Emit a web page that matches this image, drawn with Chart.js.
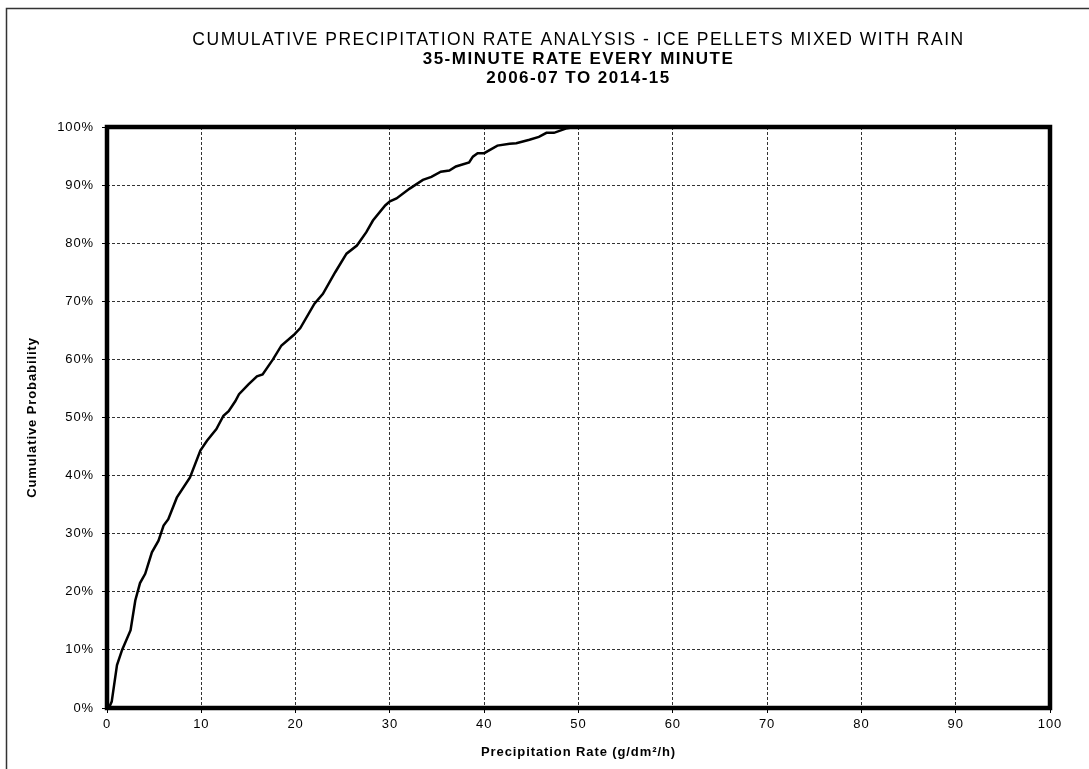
<!DOCTYPE html>
<html>
<head>
<meta charset="utf-8">
<script src="https://cdn.jsdelivr.net/npm/chart.js@4/dist/chart.umd.min.js"></script>
<style>
    html, body { margin: 0; padding: 0; background: #fff; }
    #wrap { width: 1089px; height: 769px; }
</style>
</head>
<body>
<div id="wrap"><canvas id="cdfChart"></canvas></div>
<script>
// 读图得到的数据
const rate = [0.2, 0.5, 1.06, 1.6, 2.5, 3.0, 3.5, 4.05, 4.76, 5.46, 6.0, 6.5, 7.4, 8.8, 9.9, 10.6, 11.6, 12.35, 12.9, 13.6,
    14.0, 15.0, 15.9, 16.5, 17.6, 18.5, 19.8, 20.5, 22.0, 22.9, 24.2, 25.4, 26.5, 27.5, 28.2, 29.5, 30.0, 30.7, 32.1,
    33.5, 34.4, 35.4, 36.3, 37.0, 38.4, 38.8, 39.3, 40.0, 41.4, 42.7, 43.4, 44.8, 45.8, 46.6, 47.4, 48.8, 49.6];
const prob = [0, 1.1, 7.4, 10, 13.4, 18.5, 21.5, 23.1, 26.8, 28.8, 31.4, 32.5, 36.2, 39.7, 44.3, 46, 48, 50.3, 51.1, 52.8,
    54, 55.7, 57.1, 57.4, 60, 62.4, 64.2, 65.4, 69.6, 71.3, 75, 78.2, 79.6, 81.9, 83.9, 86.5, 87.2, 87.7, 89.4,
    90.9, 91.4, 92.3, 92.5, 93.2, 93.9, 94.9, 95.5, 95.5, 96.8, 97.1, 97.2, 97.8, 98.3, 99, 99, 99.8, 100];
const xTicks = [0, 10, 20, 30, 40, 50, 60, 70, 80, 90, 100];
const titleText = 'CUMULATIVE PRECIPITATION RATE ANALYSIS - ICE PELLETS MIXED WITH RAIN';
const subtitleText = ['35-MINUTE RATE EVERY MINUTE', '2006-07 TO 2014-15'];

const FONT = '"Liberation Sans", Arial, sans-serif';

// 原图文字横向偏宽，用一点字间距近似
const framePlugin = {
    id: 'frame',
    afterLayout(chart) {
        chart.boxes.forEach(b => {
            if (b.axis || !b.options || b.options.text === undefined || b._wrapped) return;
            const orig = b.draw.bind(b);
            b.draw = (area) => {
                const c = chart.ctx;
                c.save();
                c.letterSpacing = '1.5px';
                orig(area);
                c.restore();
            };
            b._wrapped = true;
        });
    },
    beforeDraw(chart) {
        const ctx = chart.ctx;
        ctx.save();
        ctx.fillStyle = '#fff';
        ctx.fillRect(0, 0, chart.width, chart.height);
        ctx.strokeStyle = '#333';
        ctx.lineWidth = 1.5;
        ctx.beginPath();
        ctx.moveTo(6.5, chart.height);
        ctx.lineTo(6.5, 8.5);
        ctx.lineTo(chart.width, 8.5);
        ctx.stroke();
        ctx.restore();
        ctx.letterSpacing = '0.9px';
    },
    afterDraw(chart) {
        const {left, top, right, bottom} = chart.chartArea;
        const ctx = chart.ctx;
        ctx.letterSpacing = '0px';
        ctx.save();
        ctx.strokeStyle = '#000';
        ctx.lineWidth = 4.5;
        ctx.strokeRect(left, top, right - left, bottom - top);
        ctx.restore();
    }
};

const ctx = document.getElementById('cdfChart').getContext('2d');
new Chart(ctx, {
    type: 'line',
    data: {
        datasets: [{
            data: rate.map((r, i) => ({x: r, y: prob[i]})),
            borderColor: '#000',
            borderWidth: 2.5,
            pointRadius: 0,
            tension: 0,
            fill: false
        }]
    },
    options: {
        responsive: true,
        maintainAspectRatio: false,
        animation: false,
        layout: {padding: {left: 0, right: 39, top: 0, bottom: 0}},
        plugins: {
            legend: {display: false},
            tooltip: {enabled: false},
            title: {
                display: true,
                text: titleText,
                fullSize: false,
                color: '#000',
                font: {family: FONT, size: 17.5, weight: 'normal', lineHeight: '19px'},
                padding: {top: 31, bottom: 0}
            },
            subtitle: {
                display: true,
                text: subtitleText,
                fullSize: false,
                color: '#000',
                font: {family: FONT, size: 17, weight: 'bold', lineHeight: '19px'},
                padding: {top: 0, bottom: 39}
            }
        },
        scales: {
            x: {
                type: 'linear',
                min: 0,
                max: 100,
                afterBuildTicks: axis => { axis.ticks = xTicks.map(v => ({value: v})); },
                afterFit: axis => { axis.height = 61; },
                ticks: {color: '#000', font: {family: FONT, size: 13}, padding: 4, maxRotation: 0, autoSkip: false},
                grid: {color: '#333', lineWidth: 1, tickLength: 5, tickColor: '#000'},
                border: {display: false, dash: [3, 2]},
                title: {
                    display: true,
                    text: 'Precipitation Rate (g/dm²/h)',
                    color: '#000',
                    font: {family: FONT, size: 13, weight: 'bold', lineHeight: 1.2},
                    padding: {top: 0, bottom: 9}
                }
            },
            y: {
                min: 0,
                max: 100,
                afterFit: axis => { axis.width = 107; },
                ticks: {
                    stepSize: 10,
                    color: '#000',
                    font: {family: FONT, size: 13},
                    padding: 8,
                    callback: v => v + '%'
                },
                grid: {color: '#333', lineWidth: 1, tickLength: 5, tickColor: '#000'},
                border: {display: false, dash: [3, 2]},
                title: {
                    display: true,
                    text: 'Cumulative Probability',
                    color: '#000',
                    font: {family: FONT, size: 13, weight: 'bold', lineHeight: 1.2},
                    padding: {top: 25, bottom: 0}
                }
            }
        }
    },
    plugins: [framePlugin]
});
</script>
</body>
</html>
